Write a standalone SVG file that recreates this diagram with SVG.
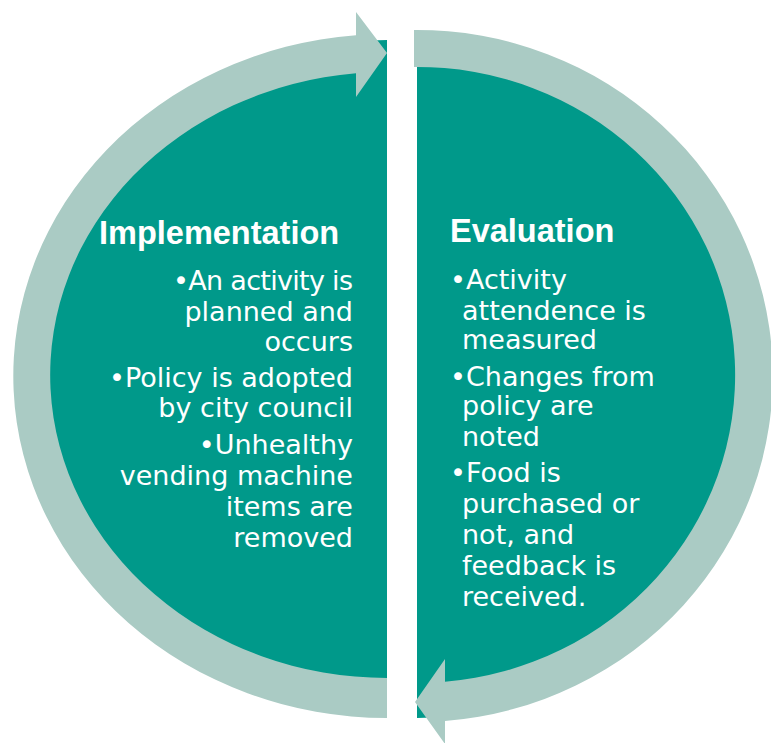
<svg xmlns="http://www.w3.org/2000/svg" width="771" height="743" viewBox="0 0 771 743">
  <style>
    .half { fill: #00998A; }
    .band { fill: #AACBC4; }
    .head { font-family: "Liberation Sans", Arial, sans-serif; font-weight: bold; font-size: 32.5px; fill: #FFFFFF; }
    .body { font-family: "DejaVu Sans", "Liberation Sans", sans-serif; font-size: 27px; fill: #FFFFFF; }
  </style>
  <rect x="0" y="0" width="771" height="743" fill="#FFFFFF"/>

  <g id="implementation">
    <path class="half" d="M387,40 A340,335 0 0 0 47,375 A340,310 0 0 0 387,685 Z"/>
  </g>
  <g id="evaluation">
    <path class="half" d="M417,45 A322,330 0 0 1 739,375 A322,343 0 0 1 417,718 Z"/>
  </g>

  <g id="connectors">
    <path class="band" d="M387,718 A374,342 0 0 1 356,35.2 L356,12 L387,53 L356,97 L356,73.3 A337,303 0 0 0 387,678 Z"/>
    <path class="band" d="M414,30 A356,346 0 0 1 445,720.9 L445,744 L415,702 L445,659 L445,681.8 A318,308 0 0 0 414,67 Z"/>
  </g>

  <g id="implementation-text">
    <text class="head" x="99" y="244">Implementation</text>
    <g class="body" text-anchor="end">
      <text x="353" y="290" textLength="180">•An activity is</text>
      <text x="353" y="320.5">planned and</text>
      <text x="353" y="351">occurs</text>
      <text x="353" y="387">•Policy is adopted</text>
      <text x="353" y="417">by city council</text>
      <text x="353" y="454">•Unhealthy</text>
      <text x="353" y="485">vending machine</text>
      <text x="353" y="516">items are</text>
      <text x="353" y="546.5">removed</text>
    </g>
  </g>

  <g id="evaluation-text">
    <text class="head" x="450" y="242">Evaluation</text>
    <g class="body">
      <text x="450" y="289">•Activity</text>
      <text x="462" y="320">attendence is</text>
      <text x="462" y="349">measured</text>
      <text x="450" y="386">•Changes from</text>
      <text x="462" y="415">policy are</text>
      <text x="462" y="446">noted</text>
      <text x="450" y="482">•Food is</text>
      <text x="462" y="513">purchased or</text>
      <text x="462" y="544">not, and</text>
      <text x="462" y="575">feedback is</text>
      <text x="462" y="606">received.</text>
    </g>
  </g>
</svg>
